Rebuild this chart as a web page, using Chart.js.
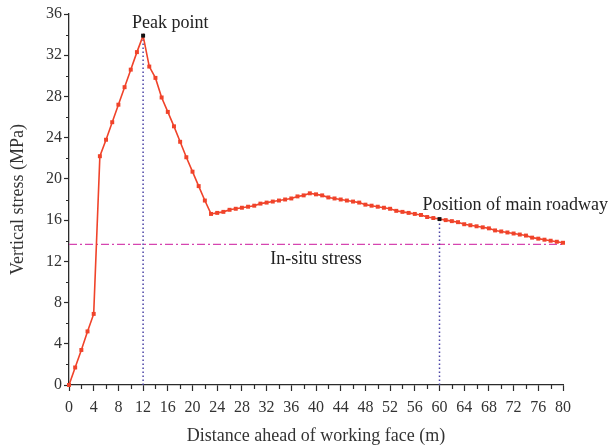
<!DOCTYPE html>
<html>
<head>
<meta charset="utf-8">
<script src="https://cdn.jsdelivr.net/npm/chart.js@4.4.1/dist/chart.umd.min.js"></script>
<style>
  html, body { margin: 0; padding: 0; background: #fff; }
  #wrap { width: 613px; height: 447px; }
</style>
</head>
<body>
<div id="wrap"><canvas id="stressChart"></canvas></div>
<script>
// ---- data ----
const distance = [
  0, 1, 2, 3, 4, 5, 6, 7, 8, 9, 10, 11, 12, 13, 14, 15, 16, 17, 18, 19, 20,
  21, 22, 23, 24, 25, 26, 27, 28, 29, 30, 31, 32, 33, 34, 35, 36, 37, 38, 39, 40,
  41, 42, 43, 44, 45, 46, 47, 48, 49, 50, 51, 52, 53, 54, 55, 56, 57, 58, 59, 60,
  61, 62, 63, 64, 65, 66, 67, 68, 69, 70, 71, 72, 73, 74, 75, 76, 77, 78, 79, 80
];
const verticalStress = [
  0, 1.7, 3.4, 5.2, 6.9, 22.2, 23.8, 25.5, 27.2, 28.9, 30.6, 32.3, 33.9, 30.9, 29.8, 27.9, 26.5, 25.1, 23.6, 22.1, 20.7,
  19.3, 17.9, 16.6, 16.7, 16.8, 17.0, 17.1, 17.2, 17.3, 17.4, 17.6, 17.7, 17.8, 17.9, 18.0, 18.1, 18.3, 18.4, 18.6, 18.5,
  18.4, 18.2, 18.1, 18.0, 17.9, 17.8, 17.7, 17.5, 17.4, 17.3, 17.2, 17.1, 16.9, 16.8, 16.7, 16.6, 16.5, 16.3, 16.2, 16.1,
  16.0, 15.9, 15.8, 15.6, 15.5, 15.4, 15.3, 15.2, 15.0, 14.9, 14.8, 14.7, 14.6, 14.5, 14.3, 14.2, 14.1, 14.0, 13.9, 13.8
];
const xTicks = [0, 4, 8, 12, 16, 20, 24, 28, 32, 36, 40, 44, 48, 52, 56, 60, 64, 68, 72, 76, 80];
const yTicks = [0, 4, 8, 12, 16, 20, 24, 28, 32, 36];
const inSituStress = 13.65;
const peakDistance = 12;
const roadwayDistance = 60;
const inSituLabelAt = 40;

const FONT = "'Liberation Serif', 'DejaVu Serif', serif";
const RED = "#f0432a";
const INK = "#2b2b2b";

const stressAt = d => verticalStress[distance.indexOf(d)];

// minor ticks halfway between the labelled ones + text labels
const extrasPlugin = {
  id: "extras",
  afterDraw(chart) {
    const ctx = chart.ctx;
    const xs = chart.scales.x, ys = chart.scales.y;
    ctx.save();
    ctx.strokeStyle = INK;
    ctx.lineWidth = 1.2;
    ctx.beginPath();
    for (let i = 0; i < xTicks.length - 1; i++) {
      const px = Math.round(xs.getPixelForValue((xTicks[i] + xTicks[i + 1]) / 2)) + 0.5;
      ctx.moveTo(px, xs.top);
      ctx.lineTo(px, xs.top + 4);
    }
    for (let i = 0; i < yTicks.length - 1; i++) {
      const py = Math.round(ys.getPixelForValue((yTicks[i] + yTicks[i + 1]) / 2)) + 0.5;
      ctx.moveTo(ys.right, py);
      ctx.lineTo(ys.right - 3, py);
    }
    ctx.stroke();

    ctx.fillStyle = "#222";
    ctx.font = "18px " + FONT;
    ctx.textBaseline = "middle";
    ctx.textAlign = "left";
    const pk = [xs.getPixelForValue(peakDistance), ys.getPixelForValue(stressAt(peakDistance))];
    ctx.fillText("Peak point", pk[0] - 11, pk[1] - 12);
    const rd = [xs.getPixelForValue(roadwayDistance), ys.getPixelForValue(stressAt(roadwayDistance))];
    ctx.fillText("Position of main roadway", rd[0] - 17, rd[1] - 14);
    ctx.textAlign = "center";
    ctx.fillText("In-situ stress", xs.getPixelForValue(inSituLabelAt), ys.getPixelForValue(inSituStress) + 15);
    ctx.restore();
  }
};

new Chart(document.getElementById("stressChart"), {
  type: "line",
  data: {
    datasets: [
      {
        label: "Vertical stress",
        data: distance.map((d, i) => ({ x: d, y: verticalStress[i] })),
        borderColor: RED,
        borderWidth: 1.6,
        pointStyle: "rect",
        pointRadius: 2.8,
        pointBorderWidth: 0,
        pointBackgroundColor: c => {
          const d = distance[c.dataIndex];
          return (d === peakDistance || d === roadwayDistance) ? "#111" : RED;
        },
        tension: 0,
        clip: false,
        order: 0
      },
      {
        label: "In-situ stress",
        data: [{ x: distance[0], y: inSituStress }, { x: distance[distance.length - 1], y: inSituStress }],
        borderColor: "#d545b0",
        borderWidth: 1.3,
        borderDash: [8, 3, 2, 3],
        pointRadius: 0,
        order: 2
      },
      {
        label: "Peak",
        data: [{ x: peakDistance, y: 0 }, { x: peakDistance, y: stressAt(peakDistance) }],
        borderColor: "#4b44a6",
        borderWidth: 1.5,
        borderDash: [1.5, 2.5],
        pointRadius: 0,
        order: 1
      },
      {
        label: "Roadway",
        data: [{ x: roadwayDistance, y: 0 }, { x: roadwayDistance, y: stressAt(roadwayDistance) }],
        borderColor: "#4b44a6",
        borderWidth: 1.5,
        borderDash: [1.5, 2.5],
        pointRadius: 0,
        order: 1
      }
    ]
  },
  options: {
    responsive: true,
    maintainAspectRatio: false,
    animation: false,
    layout: { padding: { top: 14, right: 50, left: 0, bottom: 0 } },
    plugins: { legend: { display: false }, tooltip: { enabled: false } },
    scales: {
      x: {
        type: "linear",
        min: 0,
        max: 80,
        afterBuildTicks: s => { s.ticks = xTicks.map(v => ({ value: v })); },
        afterFit: s => { s.height = 62; },
        grid: { drawOnChartArea: false, drawTicks: true, tickLength: 6, tickColor: INK, tickWidth: 1.2 },
        border: { display: true, color: INK, width: 1.3 },
        ticks: { color: "#333", font: { family: FONT, size: 16 }, padding: 7, maxRotation: 0, autoSkip: false },
        title: {
          display: true,
          text: "Distance ahead of working face (m)",
          color: "#333",
          font: { family: FONT, size: 18 },
          padding: { top: 0, bottom: 0 }
        }
      },
      y: {
        type: "linear",
        min: 0,
        max: 36,
        afterBuildTicks: s => { s.ticks = yTicks.map(v => ({ value: v })); },
        afterFit: s => { s.width = 69; },
        grid: { drawOnChartArea: false, drawTicks: true, tickLength: 5, tickColor: INK, tickWidth: 1.2 },
        border: { display: true, color: INK, width: 1.3 },
        ticks: { color: "#333", font: { family: FONT, size: 16 }, padding: 2, autoSkip: false },
        title: {
          display: true,
          text: "Vertical stress (MPa)",
          color: "#333",
          font: { family: FONT, size: 18 },
          padding: { top: 7, bottom: 0 }
        }
      }
    }
  },
  plugins: [extrasPlugin]
});
</script>
</body>
</html>
